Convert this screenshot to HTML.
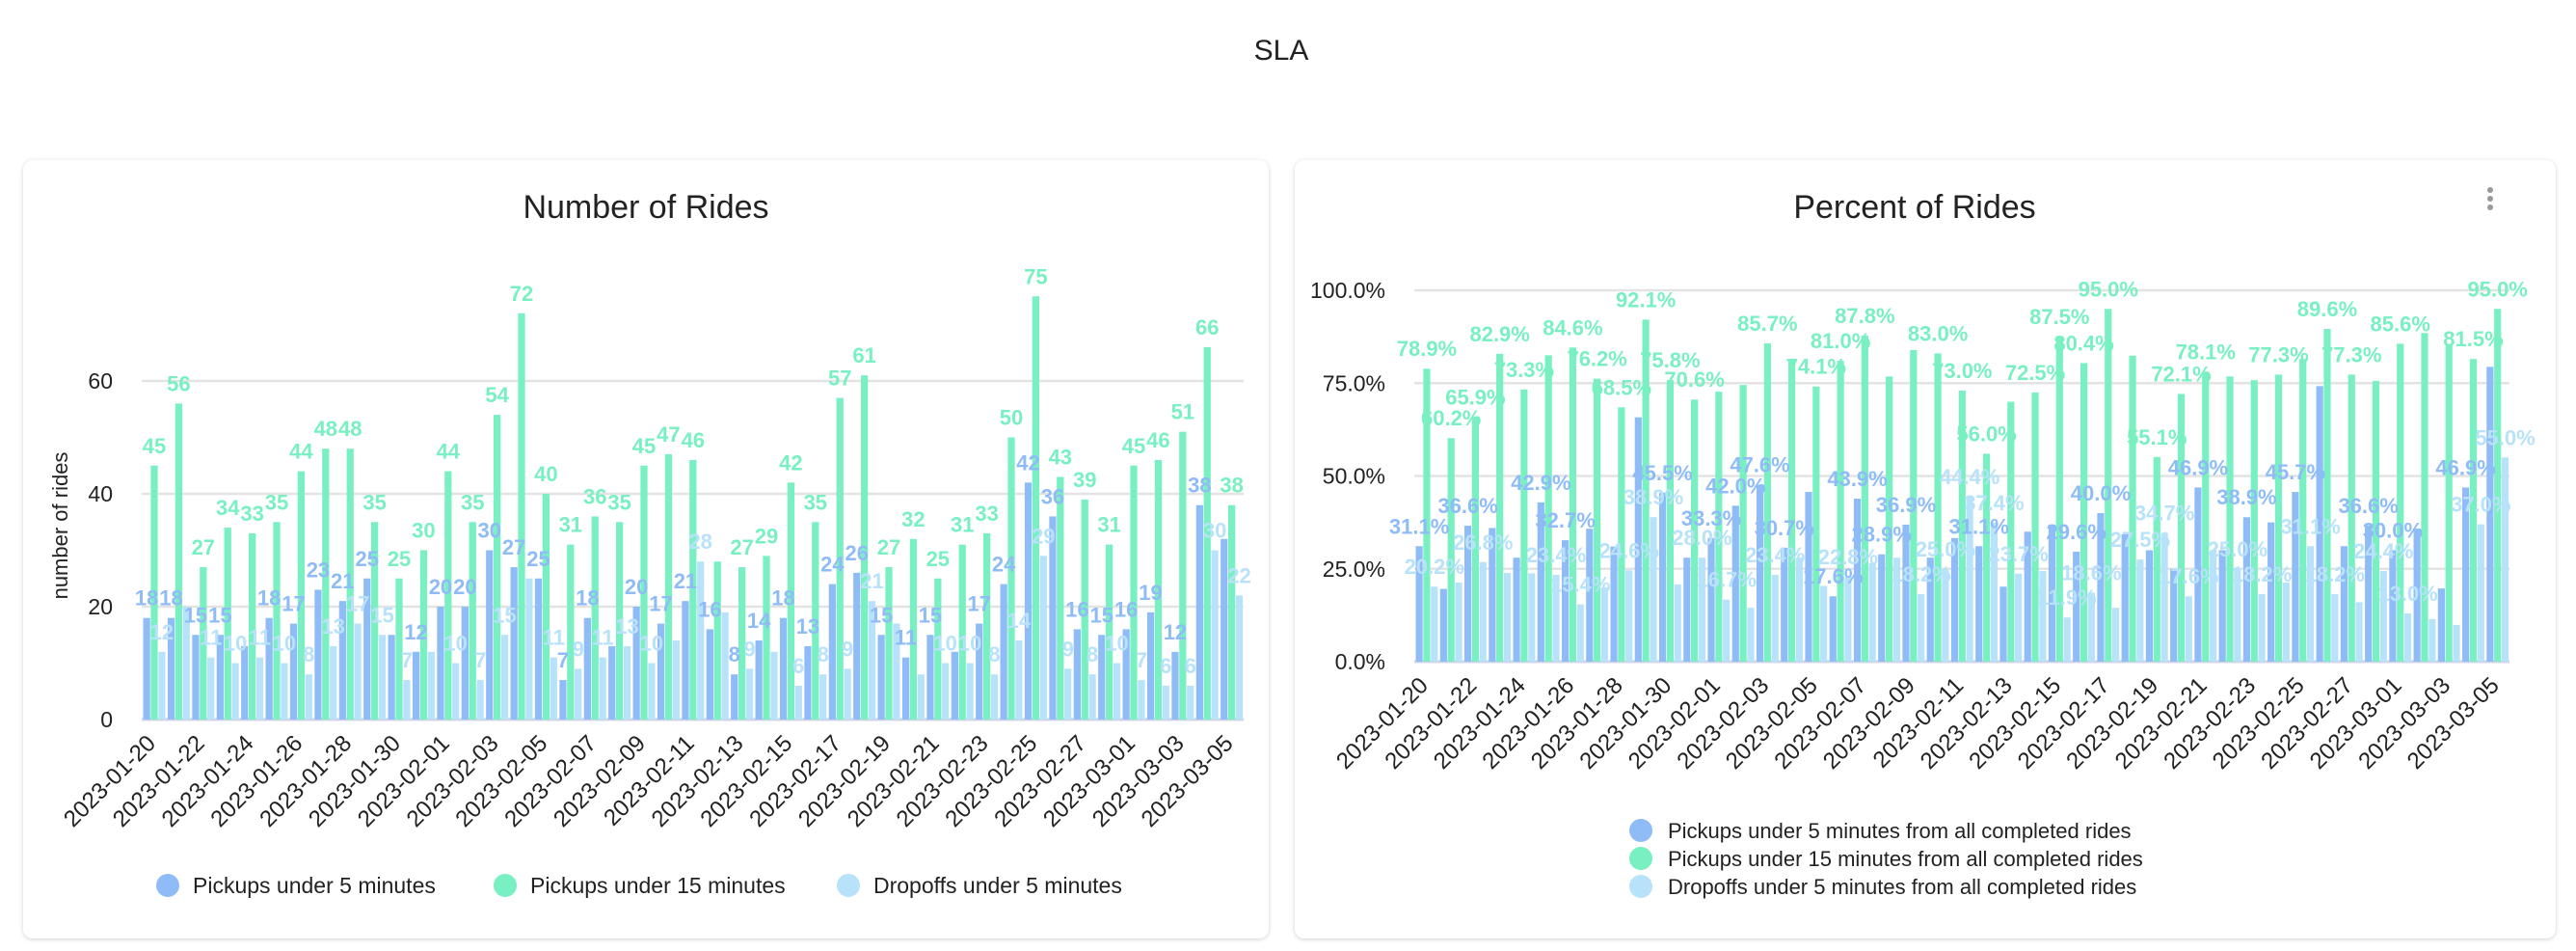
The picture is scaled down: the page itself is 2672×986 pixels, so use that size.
<!DOCTYPE html>
<html><head><meta charset="utf-8"><style>
html,body{margin:0;padding:0;background:#fff;}
body{width:2672px;height:986px;overflow:hidden;position:relative;font-family:"Liberation Sans",sans-serif;}
.card{position:absolute;background:#fff;border-radius:10px;box-shadow:0 1px 5px rgba(0,0,0,0.18);}
svg{position:absolute;left:0;top:0;}
</style></head><body>
<div class="card" style="left:24px;top:166px;width:1292px;height:807px;"></div>
<div class="card" style="left:1343px;top:166px;width:1308px;height:807px;"></div>
<svg id="s" width="2672" height="986" viewBox="0 0 2672 986">
<text x="1329" y="62" text-anchor="middle" font-size="30" fill="#222">SLA</text>
<text x="670" y="226" text-anchor="middle" font-size="34" fill="#222">Number of Rides</text>
<text x="1986" y="226" text-anchor="middle" font-size="34" fill="#222">Percent of Rides</text>
<g fill="#999">
<circle cx="2583" cy="197" r="3"/><circle cx="2583" cy="206" r="3"/><circle cx="2583" cy="215" r="3"/>
</g>
<text transform="translate(70,545) rotate(-90)" text-anchor="middle" font-size="22" fill="#222">number of rides</text>
<g id="left"></g>
<g id="right"></g>
</svg>
<script>
const dates = [];
(function(){const d=new Date(Date.UTC(2023,0,20));for(let i=0;i<45;i++){const t=new Date(d.getTime()+i*86400000);dates.push(t.toISOString().slice(0,10));}})();
const ridesPick5 = [18,18,15,15,13,18,17,23,21,25,15,12,20,20,30,27,25,7,18,13,20,17,21,16,8,14,18,13,24,26,15,11,15,12,17,24,42,36,16,15,16,19,12,38,32];
const ridesPick15 = [45,56,27,34,33,35,44,48,48,35,25,30,44,35,54,72,40,31,36,35,45,47,46,28,27,29,42,35,57,61,27,32,25,31,33,50,75,43,39,31,45,46,51,66,38];
const ridesDrop5 = [12,20,11,10,11,10,8,13,17,15,7,12,10,7,15,25,11,9,11,13,10,14,28,19,9,12,6,8,9,21,17,8,10,10,8,14,29,9,8,10,7,6,6,30,22];
const pctPick5 = [31.1,19.6,36.6,36.0,28.0,42.9,32.7,35.8,31.0,65.8,45.5,28.0,33.3,42.0,47.6,30.7,45.7,17.6,43.9,28.9,36.9,28.0,33.3,31.1,20.2,35.0,36.9,29.6,40.0,34.3,30.0,25.0,46.9,30.0,38.9,37.5,45.7,74.2,31.1,36.6,30.0,35.8,19.7,46.9,79.4];
const pctPick15 = [78.9,60.2,65.9,82.9,73.3,82.5,84.6,76.2,68.5,92.1,75.8,70.6,72.7,74.5,85.7,81.0,74.1,81.0,87.8,76.8,83.9,83.0,73.0,56.0,70.0,72.5,87.5,80.4,95.0,82.4,55.1,72.1,78.1,76.8,75.8,77.3,81.5,89.6,77.3,75.6,85.6,88.5,85.1,81.5,95.0];
const pctDrop5 = [20.2,21.3,26.8,23.9,23.8,23.4,15.4,20.0,24.6,38.9,20.8,28.0,16.7,14.5,23.4,28.0,20.4,22.8,26.5,28.0,18.2,25.0,44.4,37.4,23.7,24.4,11.9,18.6,14.5,27.5,34.7,17.6,30.0,25.0,18.2,21.3,31.1,18.2,16.0,24.4,13.0,11.5,9.9,37.0,55.0];
const leftTicks = [0,20,40,60];
const rightTicks = [0,25,50,75,100];
const colors = ['#8fbcf7','#78f0c2','#b8e2fa'];
const NS='http://www.w3.org/2000/svg';
function mk(tag,attrs,parent,txt){const e=document.createElementNS(NS,tag);for(const k in attrs)e.setAttribute(k,attrs[k]);if(txt!==undefined)e.textContent=txt;parent.appendChild(e);return e;}

function drawChart(g,cfg){
  const {x0,x1,y0,yTop,vTop,series,ticks,fmt,tickFmt,labelRight,xLabelY,prefix}=cfg;
  const band=(x1-x0)/45;
  const ys=v=>y0-(v/vTop)*(y0-yTop);
  ticks.forEach(t=>{
    const gl=mk('line',{x1:x0,x2:x1,y1:ys(t),y2:ys(t),stroke:t===0?'#cfd5e6':'#e3e3e3','stroke-width':t===0?3:2.5},g);
    
    
    const tl=mk('text',{x:labelRight,y:ys(t)+8,'text-anchor':'end','font-size':23,fill:'#222'},g,tickFmt(t));
    
    
  });
  const bw=band*0.285, pitch=band*0.31, off=band*0.06;
  const labels=[];const placed=[];
  for(let i=0;i<45;i++){
    series.forEach((s,k)=>{
      const v=s[i];const x=x0+i*band+off+k*pitch;const y=ys(v);
      const r=mk('rect',{x:x,y:y,width:bw,height:y0-y,fill:colors[k]},g);
      
      
      labels.push({cx:x+bw/2,y:y-13,t:fmt(v),k:k});
    });
    if(i%2===0){
      const cx=x0+i*band+band/2+3;
      const xl=mk('text',{transform:'translate('+cx+','+xLabelY+') rotate(-45)','text-anchor':'end','font-size':24,fill:'#222'},g,dates[i]);
      
      
    }
  }
  labels.forEach(l=>{
    const w=l.t.length*12.5, h=20;
    const bb={l:l.cx-w/2,r:l.cx+w/2,t:l.y-h,b:l.y};
    if(placed.some(p=>bb.l<p.r&&bb.r>p.l&&bb.t<p.b&&bb.b>p.t))return;
    placed.push(bb);
    const tx=mk('text',{x:l.cx,y:l.y,'text-anchor':'middle','font-size':22,'font-weight':'bold',fill:colors[l.k]},g,l.t);
    
    
  });
}
const L=document.getElementById('left'),R=document.getElementById('right');
drawChart(L,{x0:147,x1:1290,y0:746,yTop:395,vTop:60,series:[ridesPick5,ridesPick15,ridesDrop5],ticks:leftTicks,fmt:v=>String(v),tickFmt:t=>String(t),labelRight:117,xLabelY:772,prefix:'rides'});
drawChart(R,{x0:1467,x1:2603,y0:686,yTop:301,vTop:100,series:[pctPick5,pctPick15,pctDrop5],ticks:rightTicks,fmt:v=>v.toFixed(1)+'%',tickFmt:t=>t.toFixed(1)+'%',labelRight:1437,xLabelY:712,prefix:'percent'});
const legL=[['Pickups under 5 minutes',174],['Pickups under 15 minutes',524],['Dropoffs under 5 minutes',880]];
legL.forEach((it,k)=>{
  const g=mk('g',{},L);
  
  
  mk('circle',{cx:it[1],cy:918,r:12,fill:colors[k]},g);
  mk('text',{x:it[1]+26,y:926,'font-size':23,fill:'#222'},g,it[0]);
});
const legR=['Pickups under 5 minutes from all completed rides','Pickups under 15 minutes from all completed rides','Dropoffs under 5 minutes from all completed rides'];
legR.forEach((t,k)=>{
  const g=mk('g',{},R);
  
  
  const y=861+k*29;
  mk('circle',{cx:1702,cy:y,r:12,fill:colors[k]},g);
  mk('text',{x:1730,y:y+8,'font-size':22,fill:'#222'},g,t);
});
</script>
</body></html>
